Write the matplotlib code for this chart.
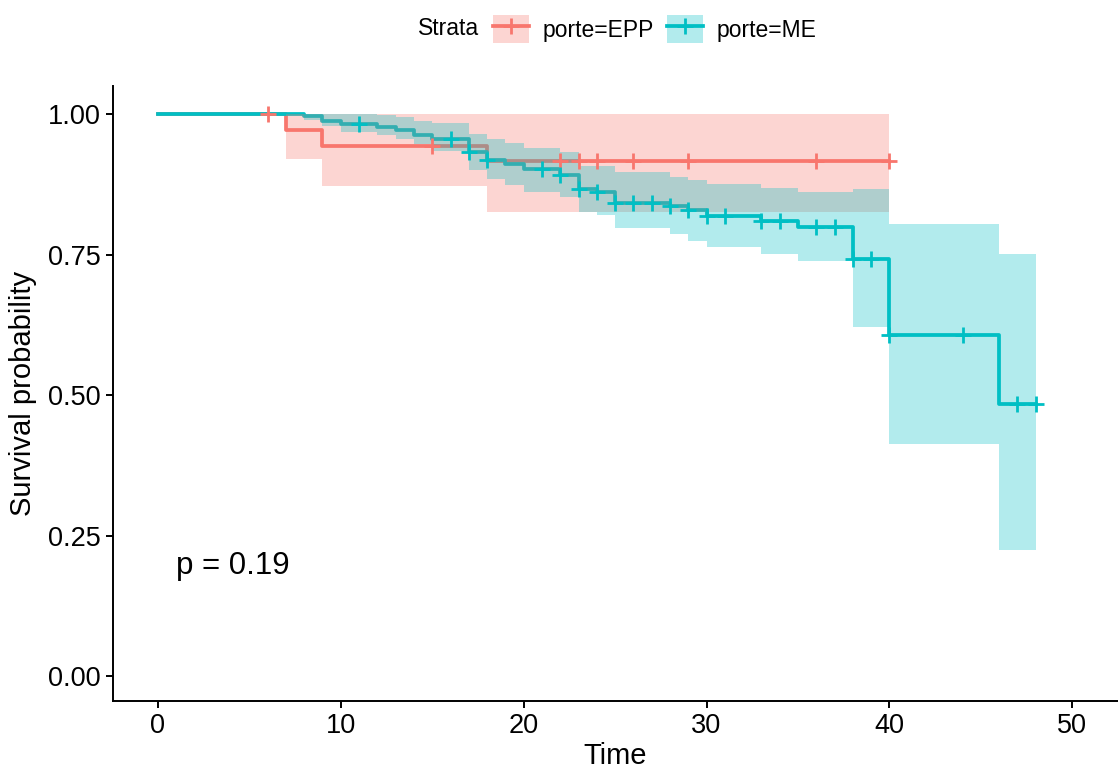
import numpy as np
import matplotlib
matplotlib.use('Agg')
import matplotlib.pyplot as plt
from matplotlib.patches import Patch
from matplotlib.lines import Line2D
from matplotlib.legend_handler import HandlerTuple

plt.rcParams['font.family'] = ['Liberation Sans', 'DejaVu Sans']

# Kaplan-Meier estimates
epp_time = [0, 7, 9, 18, 40]
epp_surv = [1.0, 0.972, 0.944, 0.917, 0.917]
epp_lower = [1.0, 0.920, 0.872, 0.826, 0.826]
epp_upper = [1.0, 1.0, 1.0, 1.0, 1.0]
epp_censor = [6, 15, 22, 23, 24, 26, 29, 36, 40]

me_time = [0, 8, 9, 10, 12, 13, 14, 15, 17, 18, 19, 20, 22, 23, 24, 25,
           28, 29, 30, 33, 35, 38, 40, 46, 48]
me_surv = [1.0, 0.997, 0.988, 0.983, 0.977, 0.9715, 0.9635, 0.955, 0.933,
           0.918, 0.911, 0.902, 0.891, 0.866, 0.862, 0.842, 0.8365, 0.829,
           0.818, 0.809, 0.799, 0.742, 0.607, 0.485, 0.485]
me_lower = [1.0, 0.990, 0.979, 0.968, 0.963, 0.955, 0.9465, 0.934, 0.900,
            0.885, 0.873, 0.8615, 0.8527, 0.825, 0.820, 0.797, 0.786, 0.774,
            0.763, 0.751, 0.739, 0.621, 0.413, 0.224, 0.224]
me_upper = [1.0, 1.0, 1.0, 1.0, 0.999, 0.995, 0.9875, 0.9845, 0.9655, 0.955,
            0.949, 0.940, 0.933, 0.907, 0.907, 0.897, 0.888, 0.883, 0.876,
            0.869, 0.8615, 0.866, 0.804, 0.7516, 0.7516]
me_censor = [11, 16, 17, 18, 21, 22, 23, 24, 25, 26, 27, 28, 29, 30, 31, 33,
             34, 36, 37, 38, 39, 40, 44, 47, 48]

p_text = 'p = 0.19'

red = '#F8766D'
teal = '#00BFC4'


def surv_at(times, surv, t):
    idx = np.searchsorted(times, t, side='right') - 1
    return np.asarray(surv)[idx]


fig = plt.figure(figsize=(11.18, 7.75), dpi=100)
ax = fig.add_axes([0.101, 0.095, 0.899, 0.794])

lw = 2.7
ms, mew = 12, 2.0
# lines first, ribbons over them, censor marks on top (survminer order)
ax.step(epp_time, epp_surv, where='post', color=red, lw=lw, zorder=1)
ax.step(me_time, me_surv, where='post', color=teal, lw=lw, zorder=1)
ax.fill_between(epp_time, epp_lower, epp_upper, step='post', color=red,
                alpha=0.3, lw=0, zorder=2)
ax.fill_between(me_time, me_lower, me_upper, step='post', color=teal,
                alpha=0.3, lw=0, zorder=2)
ax.plot(epp_censor, surv_at(epp_time, epp_surv, epp_censor), ls='none',
        marker='+', ms=ms, mew=mew, color=red, zorder=3)
ax.plot(me_censor, surv_at(me_time, me_surv, me_censor), ls='none',
        marker='+', ms=ms, mew=mew, color=teal, zorder=3)

ax.text(1.0, 0.196, p_text, fontsize=22.5, ha='left', va='center')

ax.set_xlim(-2.46, 52.5)
ax.set_ylim(-0.045, 1.05)
ax.set_xticks([0, 10, 20, 30, 40, 50])
ax.set_yticks([0, 0.25, 0.5, 0.75, 1.0])
ax.set_yticklabels(['0.00', '0.25', '0.50', '0.75', '1.00'])
ax.tick_params(labelsize=19.5, width=1.4, length=5, color='black', labelcolor='black')
ax.set_xlabel('Time', fontsize=21, labelpad=2)
ax.set_ylabel('Survival probability', fontsize=21, labelpad=8)
for side in ['top', 'right']:
    ax.spines[side].set_visible(False)
for side in ['left', 'bottom']:
    ax.spines[side].set_linewidth(1.4)

# legend on top
handles = [
    (Patch(facecolor=red, alpha=0.3, lw=0),
     Line2D([], [], color=red, lw=lw, marker='+', ms=ms, mew=mew)),
    (Patch(facecolor=teal, alpha=0.3, lw=0),
     Line2D([], [], color=teal, lw=lw, marker='+', ms=ms, mew=mew)),
]
fig.text(0.374, 0.9626, 'Strata', fontsize=16.5, ha='left', va='center')
fig.legend(handles, ['porte=EPP', 'porte=ME'], ncol=2, frameon=False,
           fontsize=16.5, loc='center left', bbox_to_anchor=(0.441, 0.9626),
           handlelength=1.55, handleheight=1.55, handletextpad=0.6,
           columnspacing=0.6, borderpad=0, borderaxespad=0,
           handler_map={tuple: HandlerTuple(ndivide=1)})

fig.savefig('out.png', dpi=100)
